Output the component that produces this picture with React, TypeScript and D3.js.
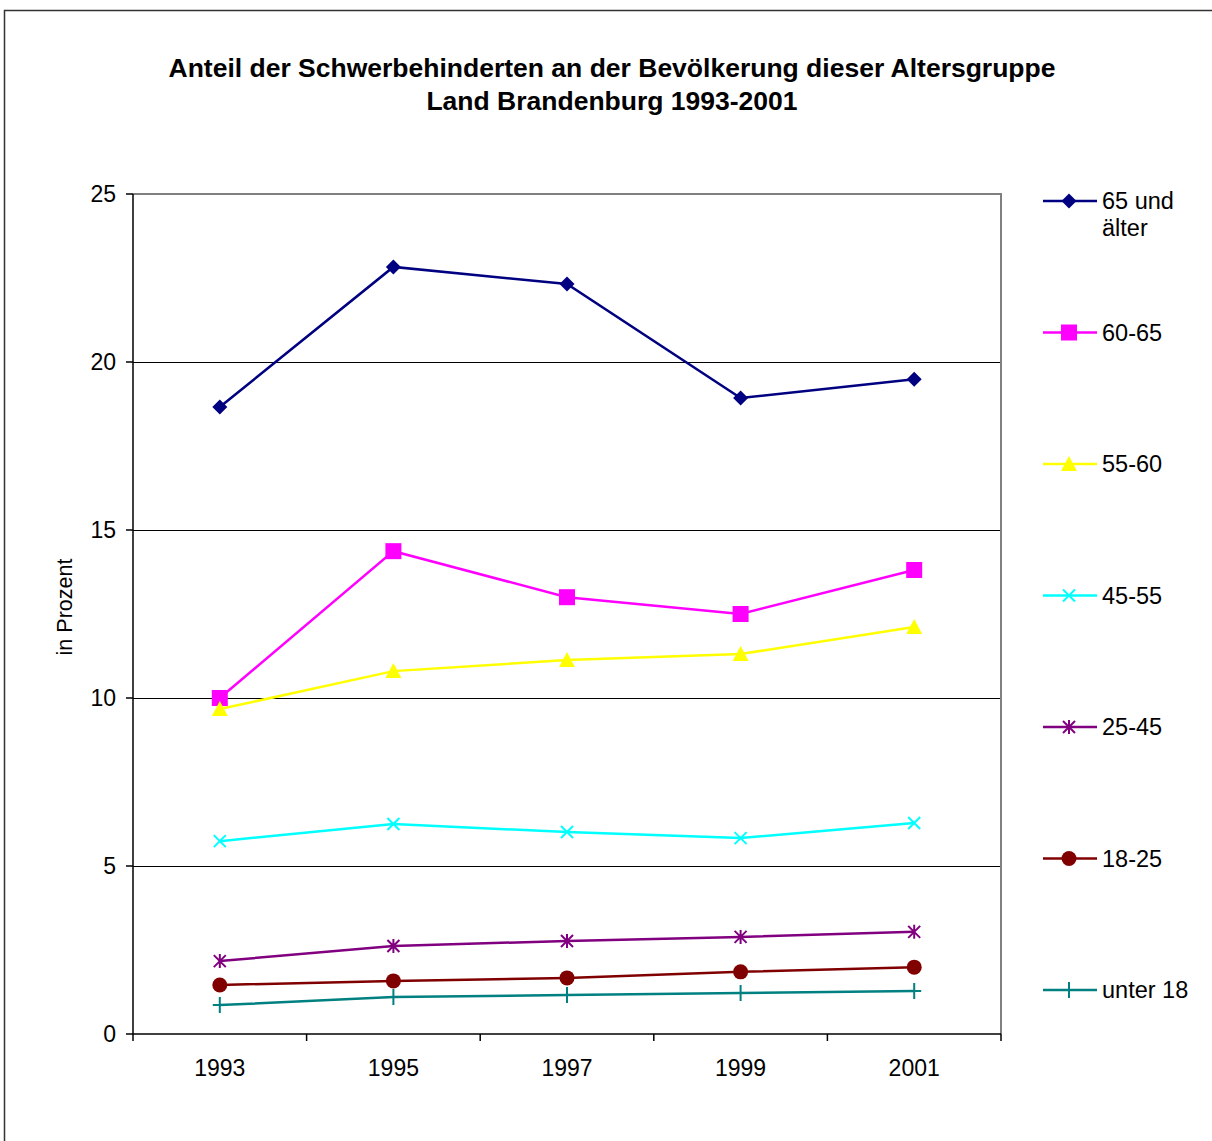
import React from "react";
import * as d3 from "d3";

// years on the x axis
const years = ["1993", "1995", "1997", "1999", "2001"];

// shares per age group, in percent
const over65 = [18.66, 22.83, 22.32, 18.93, 19.49];
const age6065 = [10.0, 14.37, 13.0, 12.5, 13.81];
const age5560 = [9.67, 10.8, 11.13, 11.31, 12.11];
const age4555 = [5.74, 6.25, 6.01, 5.83, 6.28];
const age2545 = [2.17, 2.62, 2.77, 2.89, 3.04];
const age1825 = [1.46, 1.58, 1.67, 1.85, 1.99];
const under18 = [0.86, 1.1, 1.16, 1.22, 1.28];

const yTicks = [0, 5, 10, 15, 20, 25];

const series = [
  { name: ["65 und", "älter"], values: over65, color: "#000080", marker: "diamond" },
  { name: ["60-65"], values: age6065, color: "#FF00FF", marker: "square" },
  { name: ["55-60"], values: age5560, color: "#FFFF00", marker: "triangle" },
  { name: ["45-55"], values: age4555, color: "#00FFFF", marker: "x" },
  { name: ["25-45"], values: age2545, color: "#800080", marker: "star" },
  { name: ["18-25"], values: age1825, color: "#800000", marker: "circle" },
  { name: ["unter 18"], values: under18, color: "#008080", marker: "plus" },
];

const W = 1212;
const H = 1141;
const plot = { left: 133, right: 1001, top: 194, bottom: 1034 };
const font = "'Liberation Sans', Arial, sans-serif";

// draws a marker centered at 0,0
const Marker = ({ type, color }: { type: string; color: string }) => {
  if (type === "diamond")
    return <path d="M0,-7.5L7.5,0L0,7.5L-7.5,0Z" fill={color} />;
  if (type === "square") return <rect x={-8} y={-8} width={16} height={16} fill={color} />;
  if (type === "triangle") return <path d="M0,-8L8,7L-8,7Z" fill={color} />;
  if (type === "circle") return <circle r={7.5} fill={color} />;
  if (type === "x")
    return <path d="M-6,-6L6,6M-6,6L6,-6" stroke={color} strokeWidth={2} />;
  if (type === "star")
    return (
      <path d="M-6,-6L6,6M-6,6L6,-6M0,-7L0,7" stroke={color} strokeWidth={2} />
    );
  return <path d="M-7,0L7,0M0,-8L0,8" stroke={color} strokeWidth={2} />;
};

const App = () => {
  const x = d3.scaleBand().domain(years).range([plot.left, plot.right]);
  const y = d3.scaleLinear().domain([0, 25]).range([plot.bottom, plot.top]);
  const cx = (yr: string) => (x(yr) as number) + x.bandwidth() / 2;

  const line = d3
    .line<number>()
    .x((d, i) => cx(years[i]))
    .y((d) => y(d));

  const legendY = d3
    .scalePoint<number>()
    .domain(series.map((s, i) => i))
    .range([201, 990]);

  const boundaries = years.map((yr) => x(yr) as number).concat([plot.right]);

  return (
    <svg
      width={W}
      height={H}
      style={{ position: "absolute", left: 0, top: 0, background: "#fff" }}
      fontFamily={font}
    >
      {/* outer frame */}
      <rect x={4.5} y={10.5} width={W + 10} height={H + 10} fill="none" stroke="#333" strokeWidth={1.5} />

      {/* title */}
      <text x={612} y={77} textAnchor="middle" fontSize={26.5} fontWeight="bold">
        Anteil der Schwerbehinderten an der Bevölkerung dieser Altersgruppe
      </text>
      <text x={612} y={110} textAnchor="middle" fontSize={26.5} fontWeight="bold">
        Land Brandenburg 1993-2001
      </text>

      {/* grid lines */}
      {yTicks
        .filter((t) => t > 0 && t < 25)
        .map((t) => (
          <line key={t} x1={plot.left} x2={plot.right} y1={y(t) + 0.5} y2={y(t) + 0.5} stroke="#000" strokeWidth={1} />
        ))}

      {/* plot border top/right */}
      <path
        d={`M${plot.left},${plot.top}H${plot.right}V${plot.bottom}`}
        fill="none"
        stroke="#808080"
        strokeWidth={2}
      />

      {/* axes */}
      <line x1={plot.left} x2={plot.left} y1={plot.top} y2={plot.bottom} stroke="#000" strokeWidth={1.5} />
      <line x1={plot.left} x2={plot.right} y1={plot.bottom} y2={plot.bottom} stroke="#000" strokeWidth={1.5} />

      {yTicks.map((t) => (
        <g key={t}>
          <line x1={plot.left - 7} x2={plot.left} y1={y(t)} y2={y(t)} stroke="#000" strokeWidth={1.5} />
          <text x={plot.left - 17} y={y(t) + 8} textAnchor="end" fontSize={23}>
            {t}
          </text>
        </g>
      ))}

      {boundaries.map((b, i) => (
        <line key={i} x1={b} x2={b} y1={plot.bottom} y2={plot.bottom + 7} stroke="#000" strokeWidth={1.5} />
      ))}

      {years.map((yr) => (
        <text key={yr} x={cx(yr)} y={plot.bottom + 42} textAnchor="middle" fontSize={23}>
          {yr}
        </text>
      ))}

      <text
        transform={`translate(72,607) rotate(-90)`}
        textAnchor="middle"
        fontSize={21.5}
      >
        in Prozent
      </text>

      {/* series */}
      {series.map((s) => (
        <g key={s.name.join(" ")}>
          <path d={line(s.values) as string} fill="none" stroke={s.color} strokeWidth={2.5} />
          {s.values.map((v, i) => (
            <g key={i} transform={`translate(${cx(years[i])},${y(v)})`}>
              <Marker type={s.marker} color={s.color} />
            </g>
          ))}
        </g>
      ))}

      {/* legend */}
      {series.map((s, i) => {
        const ly = legendY(i) as number;
        return (
          <g key={i} transform={`translate(0,${ly})`}>
            <line x1={1043} x2={1097} y1={0} y2={0} stroke={s.color} strokeWidth={2.5} />
            <g transform="translate(1069,0)">
              <Marker type={s.marker} color={s.color} />
            </g>
            {s.name.map((n, k) => (
              <text key={k} x={1102} y={8 + k * 27} fontSize={23.5}>
                {n}
              </text>
            ))}
          </g>
        );
      })}
    </svg>
  );
};

export default App;
